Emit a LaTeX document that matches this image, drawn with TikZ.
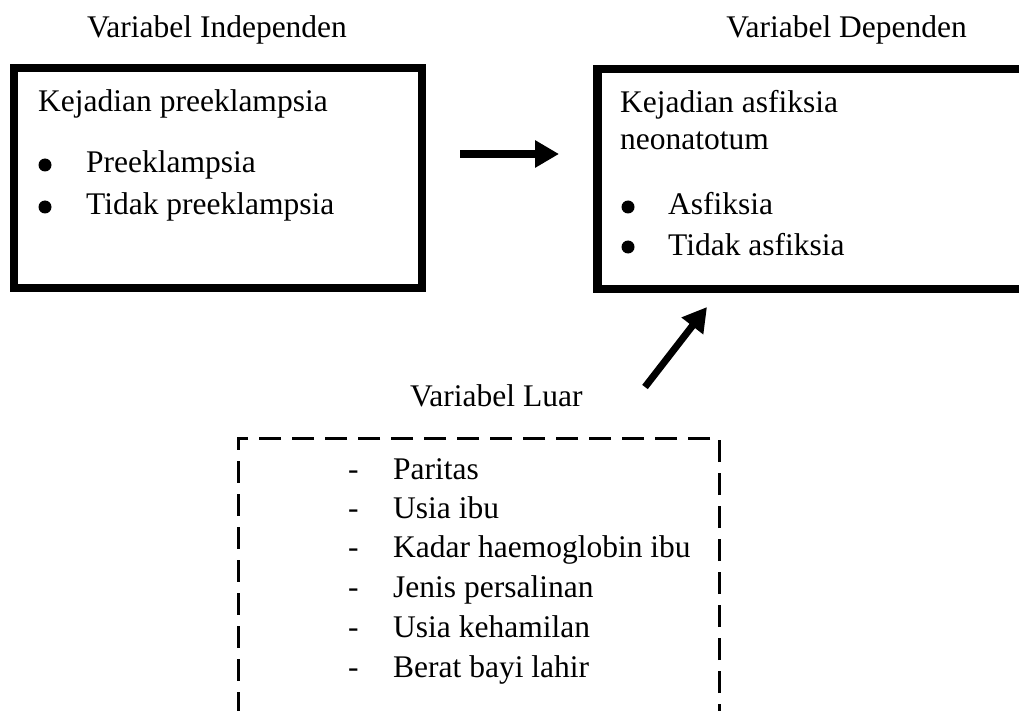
\documentclass[tikz,border=0pt]{standalone}
\usepackage{fontspec}
\setmainfont{Liberation Serif}
\usetikzlibrary{arrows.meta}
\tikzset{
  txt/.style={inner sep=0pt, anchor=base west, font=\fontsize{31.5}{38}\selectfont},
  bul/.style={circle, fill=black, inner sep=0pt, minimum size=13pt},
  thickbox/.style={draw=black, line width=8.5pt, rectangle, inner sep=0pt},
  dashbox/.style={draw=black, line width=3pt, dash pattern=on 22pt off 11pt, rectangle, inner sep=0pt},
  fatarrow/.style={line width=8pt, -{Triangle[length=24pt,width=26pt]}}
}
\begin{document}
\begin{tikzpicture}[x=1pt,y=-1pt]
\useasboundingbox (0,0) rectangle (1019,711);
\clip (0,0) rectangle (1019,711);
% headings
\node[txt] (hind) at (87,38) {Variabel Independen};
\node[txt, anchor=base east] (hdep) at (967,38) {Variabel Dependen};
\node[txt] (hluar) at (410,406) {Variabel Luar};
% boxes
\node[thickbox, minimum width=408pt, minimum height=220pt] (indep) at (218,178) {};
\node[thickbox, minimum width=442.5pt, minimum height=220pt] (dep) at (818.75,179) {};
\node[dashbox, minimum width=481pt, minimum height=302pt] (luar) at (478.5,589) {};
% independent box text
\node[txt] (t1) at (38,112) {Kejadian preeklampsia};
\node[bul] (b1) at (45,165) {};
\node[txt] (t2) at (86,173) {Preeklampsia};
\node[bul] (b2) at (45,207) {};
\node[txt] (t3) at (86,215) {Tidak preeklampsia};
% dependent box text
\node[txt] (d1) at (620,113) {Kejadian asfiksia};
\node[txt] (d2) at (620,150) {neonatotum};
\node[bul] (db1) at (628,207) {};
\node[txt] (d3) at (668,215) {Asfiksia};
\node[bul] (db2) at (628,247) {};
\node[txt] (d4) at (668,255) {Tidak asfiksia};
% external variables list
\foreach \y/\t [count=\i] in {479/Paritas, 518/Usia ibu, 557/Kadar haemoglobin ibu, 597/Jenis persalinan, 637/Usia kehamilan, 677/Berat bayi lahir}{
  \node[txt] (m\i) at (348,\y) {-};
  \node[txt] (l\i) at (393,\y) {\t};
}
% arrows
\coordinate (a1s) at (460,154);
\coordinate (a1e) at (559,154);
\coordinate (a2s) at (645,387);
\coordinate (a2e) at (707,307);
\draw[fatarrow] (a1s) -- (a1e);
\draw[fatarrow, line width=7pt] (a2s) -- (a2e);
\end{tikzpicture}
\end{document}
